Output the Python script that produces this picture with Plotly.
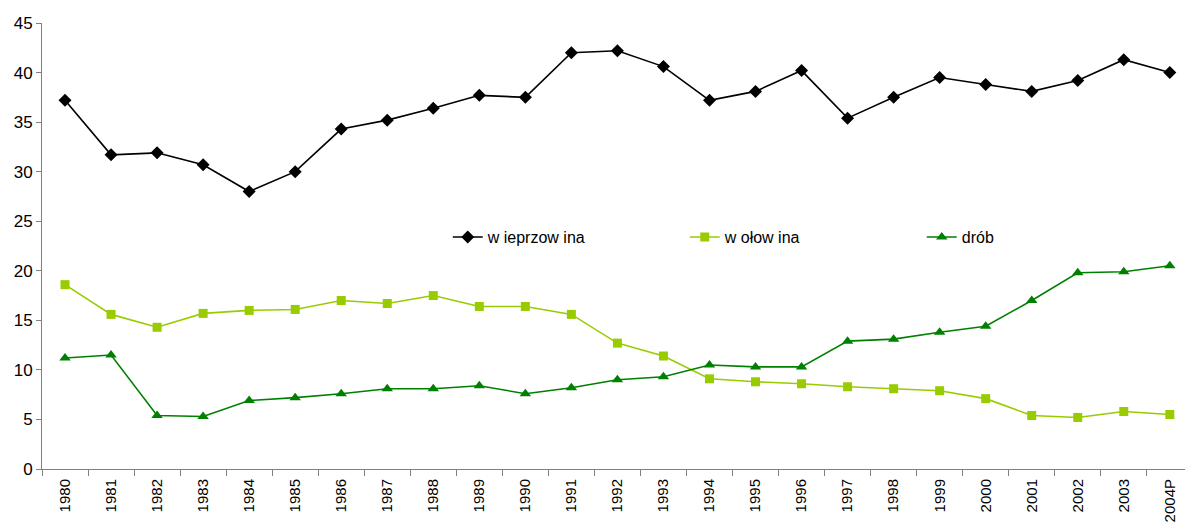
import plotly.graph_objects as go

years = ["1980", "1981", "1982", "1983", "1984", "1985", "1986", "1987", "1988",
         "1989", "1990", "1991", "1992", "1993", "1994", "1995", "1996", "1997",
         "1998", "1999", "2000", "2001", "2002", "2003", "2004P"]

wieprzowina = [37.2, 31.7, 31.9, 30.7, 28.0, 30.0, 34.3, 35.2, 36.4, 37.7, 37.5,
               42.0, 42.2, 40.6, 37.2, 38.1, 40.2, 35.4, 37.5, 39.5, 38.8, 38.1,
               39.2, 41.3, 40.0]
wolowina = [18.6, 15.6, 14.3, 15.7, 16.0, 16.1, 17.0, 16.7, 17.5, 16.4, 16.4,
            15.6, 12.7, 11.4, 9.1, 8.8, 8.6, 8.3, 8.1, 7.9, 7.1, 5.4, 5.2, 5.8, 5.5]
drob = [11.2, 11.5, 5.4, 5.3, 6.9, 7.2, 7.6, 8.1, 8.1, 8.4, 7.6, 8.2, 9.0, 9.3,
        10.5, 10.3, 10.3, 12.9, 13.1, 13.8, 14.4, 17.0, 19.8, 19.9, 20.5]

series = [
    ("w ieprzow ina", wieprzowina, "#000000", "diamond", 10),
    ("w ołow ina", wolowina, "#99CC00", "square", 9),
    ("drób", drob, "#008000", "triangle-up", 10),
]

fig = go.Figure()
for name, vals, color, symbol, size in series:
    fig.add_trace(go.Scatter(
        x=years, y=vals, name=name, mode="lines+markers",
        line=dict(color=color, width=1.6),
        marker=dict(color=color, symbol=symbol, size=size),
    ))

font = "Liberation Sans, Arial, sans-serif"
fig.update_layout(
    width=1185, height=523,
    margin=dict(l=42, r=0, t=23, b=54),
    paper_bgcolor="white", plot_bgcolor="white",
    font=dict(family=font, size=15, color="black"),
    showlegend=True,
    legend=dict(
        orientation="h", x=0.355, y=0.52, xanchor="left", yanchor="middle",
        entrywidth=192, entrywidthmode="pixels",
        font=dict(size=16), bgcolor="rgba(0,0,0,0)",
    ),
    xaxis=dict(
        type="category", range=[-0.5, 24.33], automargin=False,
        showgrid=False, showline=True, linecolor="#808080", linewidth=1,
        ticks="outside", tickson="boundaries", ticklen=6, tickcolor="#808080",
        tickangle=-90, tickfont=dict(size=15), ticklabelstandoff=3,
    ),
    yaxis=dict(
        range=[0, 45], dtick=5, showgrid=False, zeroline=False, automargin=False,
        showline=True, linecolor="#808080", linewidth=1,
        ticks="outside", ticklen=5, tickcolor="#808080",
        tickfont=dict(size=17),
    ),
)

fig.write_html("out.html")
